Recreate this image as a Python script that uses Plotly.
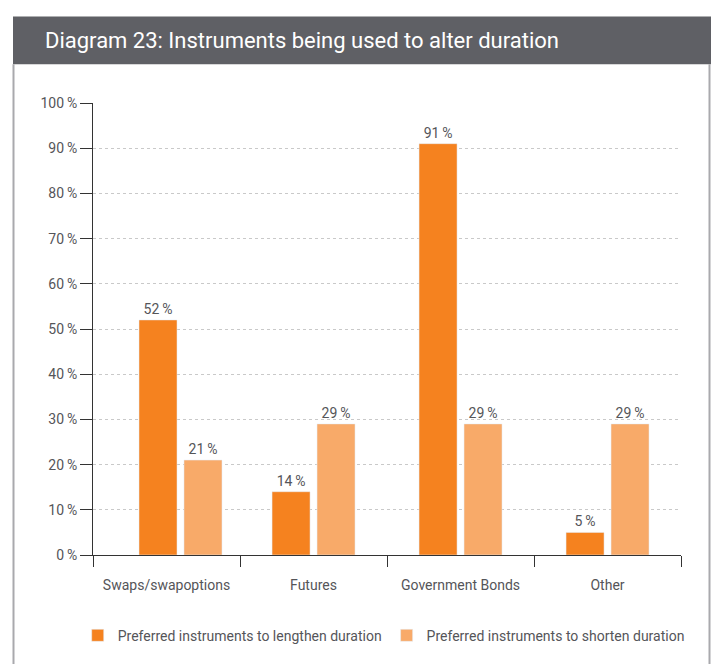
import plotly.graph_objects as go

categories = ["Swaps/swapoptions", "Futures", "Government Bonds", "Other"]
lengthen = [52, 14, 91, 5]
shorten = [21, 29, 29, 29]
series_names = ["Preferred instruments to lengthen duration",
                "Preferred instruments to shorten duration"]
y_ticks = [0, 10, 20, 30, 40, 50, 60, 70, 80, 90, 100]
y_tick_labels = [f"{v}\u2009%" for v in y_ticks]

dark = "#f5821f"
light = "#f8aa69"
grey_text = "#555559"
font_family = "Roboto, Open Sans, sans-serif"

# the first group sits a little right of its category centre in the original
group_shift = [0.095, 0, 0, 0]
bar_w = 0.2585

fig = go.Figure()
fig.add_trace(go.Bar(
    x=categories, y=lengthen, name=series_names[0],
    marker_color=dark, width=bar_w,
    offset=[-0.282 + s for s in group_shift],
    texttemplate="%{y}\u2009%", textposition="outside",
    textfont=dict(size=14, color=grey_text, family=font_family),
    cliponaxis=False,
))
fig.add_trace(go.Bar(
    x=categories, y=shorten, name=series_names[1],
    marker_color=light, width=bar_w,
    offset=[0.024 + s for s in group_shift],
    texttemplate="%{y}\u2009%", textposition="outside",
    textfont=dict(size=14, color=grey_text, family=font_family),
    cliponaxis=False,
))

# paper x 0..1 = 93..681 px, y 0..1 = 557..103 px
def px_x(p):
    return (p - 93) / 588


def px_y(p):
    return (557 - p) / 454


shapes = [
    dict(type="rect", xref="paper", yref="paper",
         x0=px_x(13), x1=px_x(711), y0=px_y(64), y1=px_y(16),
         fillcolor="#5f6065", line_width=0, layer="below"),
    dict(type="line", xref="paper", yref="paper",
         x0=px_x(13.5), x1=px_x(13.5), y0=px_y(64), y1=px_y(670),
         line=dict(color="#a9a9ad", width=2)),
    dict(type="line", xref="paper", yref="paper",
         x0=px_x(709.5), x1=px_x(709.5), y0=px_y(64), y1=px_y(670),
         line=dict(color="#a9a9ad", width=2)),
]

fig.update_layout(
    width=713, height=664,
    margin=dict(l=93, r=32, t=103, b=107),
    paper_bgcolor="white", plot_bgcolor="white",
    font=dict(family=font_family, size=14, color=grey_text),
    barmode="overlay",
    showlegend=True,
    legend=dict(orientation="h", x=-0.026, xanchor="left",
                y=px_y(622), yanchor="top",
                font=dict(size=14, color=grey_text),
                itemwidth=30, traceorder="normal"),
    shapes=shapes,
    annotations=[dict(
        text="Diagram 23: Instruments being used to alter duration",
        xref="paper", yref="paper", x=px_x(43), y=px_y(40),
        xanchor="left", yanchor="middle", showarrow=False,
        font=dict(size=22, color="white", family=font_family),
    )],
)

fig.update_xaxes(
    type="category", range=[-0.5, 3.5],
    showline=True, linecolor="#333333", linewidth=1,
    ticks="outside", tickson="boundaries", ticklen=11,
    tickcolor="#333333", ticklabelstandoff=17,
    showgrid=False, tickfont=dict(size=14, color=grey_text),
)
fig.update_yaxes(
    range=[0, 100], tickvals=y_ticks, ticktext=y_tick_labels,
    showline=True, linecolor="#333333", linewidth=1,
    ticks="outside", ticklen=12, tickcolor="#333333",
    showgrid=True, gridcolor="#c9c9c9", griddash="3px,3px", gridwidth=1,
    zeroline=False, tickfont=dict(size=14, color=grey_text),
)

fig.write_html("out.html", config={"displayModeBar": False},
               post_script="document.body.style.margin = '0';")
